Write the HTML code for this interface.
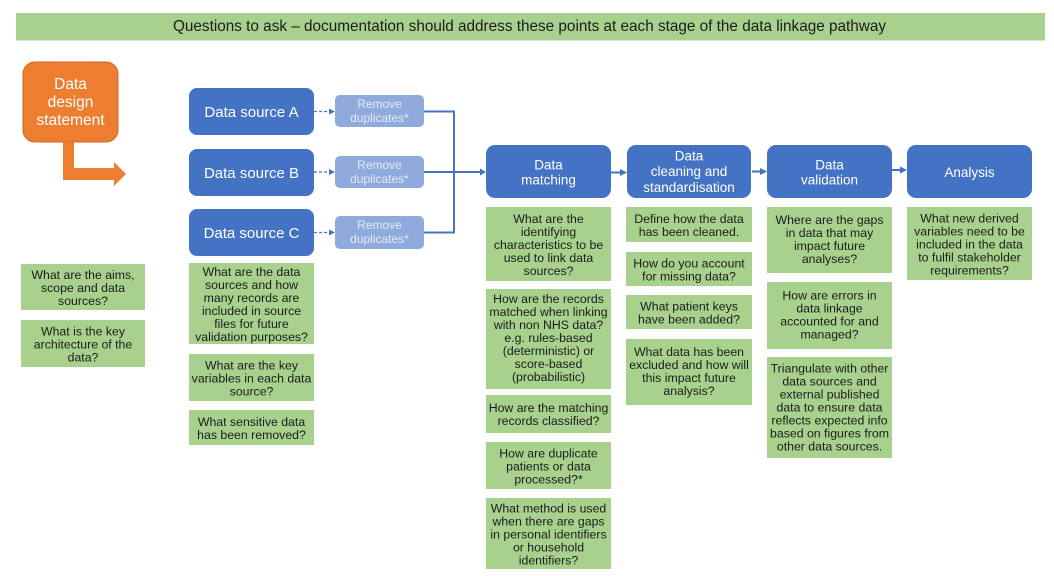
<!DOCTYPE html>
<html><head><meta charset="utf-8"><style>
html,body{margin:0;padding:0;background:#fff;}
svg{display:block;}
text{font-family:"Liberation Sans",Arial,sans-serif;}
.g{fill:#a9d18e;}
.gt{font-size:12.3px;fill:#1b1b1b;text-anchor:middle;}
.bt{font-size:15px;fill:#fff;text-anchor:middle;}
.st{font-size:13.5px;fill:#fff;text-anchor:middle;}
.rt{font-size:12px;fill:#e4eaf6;text-anchor:middle;}
</style></head><body>
<svg width="1054" height="576" viewBox="0 0 1054 576" xmlns="http://www.w3.org/2000/svg">
<rect width="1054" height="576" fill="#fff"/>
<!-- banner -->
<rect x="16" y="13" width="1029" height="27.5" fill="#a9d18e"/>
<text x="173" y="31" font-size="16" fill="#1b1b1b" textLength="713" lengthAdjust="spacingAndGlyphs">Questions to ask – documentation should address these points at each stage of the data linkage pathway</text>

<!-- orange -->
<rect x="23" y="62" width="95" height="80" rx="12" fill="#ed7d31" stroke="#d0661f" stroke-width="1"/>
<text x="70.5" y="89" font-size="15.5" fill="#fff" text-anchor="middle">Data</text>
<text x="70.5" y="107" font-size="15.5" fill="#fff" text-anchor="middle">design</text>
<text x="70.5" y="125" font-size="15.5" fill="#fff" text-anchor="middle">statement</text>
<polygon points="63,142 74,142 74,168 114,168 114,162 126,174 114,186 114,180 63,180" fill="#ed7d31"/>

<!-- data sources -->
<rect x="189" y="88" width="125" height="47" rx="8" fill="#4472c4"/>
<text class="bt" x="251.5" y="117">Data source A</text>
<rect x="189" y="149" width="125" height="47" rx="8" fill="#4472c4"/>
<text class="bt" x="251.5" y="178">Data source B</text>
<rect x="189" y="209" width="125" height="47" rx="8" fill="#4472c4"/>
<text class="bt" x="251.5" y="238">Data source C</text>

<!-- dashed arrows -->
<g stroke="#4472c4" stroke-width="1.3" stroke-dasharray="3,2">
<line x1="314" y1="111.5" x2="330" y2="111.5"/>
<line x1="314" y1="172" x2="330" y2="172"/>
<line x1="314" y1="232.5" x2="330" y2="232.5"/>
</g>
<g fill="#4472c4">
<polygon points="329,108.5 335,111.5 329,114.5"/>
<polygon points="329,169 335,172 329,175"/>
<polygon points="329,229.5 335,232.5 329,235.5"/>
</g>

<!-- remove duplicates -->
<rect x="335" y="95" width="89" height="32" rx="5" fill="#8faadc"/>
<text class="rt" x="379.5" y="108">Remove</text>
<text class="rt" x="379.5" y="122">duplicates*</text>
<rect x="335" y="156" width="89" height="32" rx="5" fill="#8faadc"/>
<text class="rt" x="379.5" y="169">Remove</text>
<text class="rt" x="379.5" y="183">duplicates*</text>
<rect x="335" y="216" width="89" height="33" rx="5" fill="#8faadc"/>
<text class="rt" x="379.5" y="229">Remove</text>
<text class="rt" x="379.5" y="243">duplicates*</text>

<!-- connectors -->
<polyline points="424,111.5 454,111.5 454,232.5 424,232.5" fill="none" stroke="#4472c4" stroke-width="2"/>
<line x1="424" y1="172" x2="481" y2="172" stroke="#4472c4" stroke-width="2"/>
<polygon points="480,168.5 486,172 480,175.5" fill="#4472c4"/>

<line x1="611" y1="172.5" x2="622" y2="172.5" stroke="#4472c4" stroke-width="2"/>
<polygon points="620,169 627,172.5 620,176" fill="#4472c4"/>
<line x1="752" y1="171.5" x2="762" y2="171.5" stroke="#4472c4" stroke-width="2"/>
<polygon points="760,168 767,171.5 760,175" fill="#4472c4"/>
<line x1="892" y1="170" x2="902" y2="170" stroke="#4472c4" stroke-width="2"/>
<polygon points="900,166.5 907,170 900,173.5" fill="#4472c4"/>

<!-- stage boxes -->
<rect x="486" y="145" width="125" height="53" rx="9" fill="#4472c4"/>
<text class="st" x="548.5" y="169.5">Data</text>
<text class="st" x="548.5" y="184.5">matching</text>
<rect x="627" y="145" width="124" height="53" rx="9" fill="#4472c4"/>
<text class="st" x="689" y="160.5">Data</text>
<text class="st" x="689" y="176">cleaning and</text>
<text class="st" x="689" y="192">standardisation</text>
<rect x="767" y="145" width="125" height="53" rx="9" fill="#4472c4"/>
<text class="st" x="829.5" y="169.5">Data</text>
<text class="st" x="829.5" y="184.5">validation</text>
<rect x="907" y="145" width="125" height="53" rx="9" fill="#4472c4"/>
<text class="st" x="969.5" y="177">Analysis</text>

<!-- left greens -->
<rect class="g" x="21" y="264" width="124" height="46"/>
<text class="gt" x="83" y="279">What are the aims,</text>
<text class="gt" x="83" y="292">scope and data</text>
<text class="gt" x="83" y="305">sources?</text>
<rect class="g" x="21" y="320" width="124" height="47"/>
<text class="gt" x="83" y="335.5">What is the key</text>
<text class="gt" x="83" y="348.5">architecture of the</text>
<text class="gt" x="83" y="361.5">data?</text>

<!-- source greens -->
<rect class="g" x="189" y="263" width="125" height="81"/>
<text class="gt" x="251.5" y="276">What are the data</text>
<text class="gt" x="251.5" y="289">sources and how</text>
<text class="gt" x="251.5" y="302">many records are</text>
<text class="gt" x="251.5" y="315">included in source</text>
<text class="gt" x="251.5" y="328">files for future</text>
<text class="gt" x="251.5" y="341">validation purposes?</text>
<rect class="g" x="189" y="354" width="125" height="47"/>
<text class="gt" x="251.5" y="369.5">What are the key</text>
<text class="gt" x="251.5" y="382.5">variables in each data</text>
<text class="gt" x="251.5" y="395.5">source?</text>
<rect class="g" x="189" y="410" width="125" height="35"/>
<text class="gt" x="251.5" y="426">What sensitive data</text>
<text class="gt" x="251.5" y="439">has been removed?</text>

<!-- matching greens -->
<rect class="g" x="486" y="207" width="125" height="74"/>
<text class="gt" x="548.5" y="223">What are the</text>
<text class="gt" x="548.5" y="236">identifying</text>
<text class="gt" x="548.5" y="249">characteristics to be</text>
<text class="gt" x="548.5" y="262">used to link data</text>
<text class="gt" x="548.5" y="275">sources?</text>
<rect class="g" x="486" y="289" width="125" height="100"/>
<text class="gt" x="548.5" y="303">How are the records</text>
<text class="gt" x="548.5" y="316">matched when linking</text>
<text class="gt" x="548.5" y="329">with non NHS data?</text>
<text class="gt" x="548.5" y="342">e.g. rules-based</text>
<text class="gt" x="548.5" y="355">(deterministic) or</text>
<text class="gt" x="548.5" y="368">score-based</text>
<text class="gt" x="548.5" y="381">(probabilistic)</text>
<rect class="g" x="486" y="395" width="125" height="38"/>
<text class="gt" x="548.5" y="412">How are the matching</text>
<text class="gt" x="548.5" y="425">records classified?</text>
<rect class="g" x="486" y="442" width="125" height="47"/>
<text class="gt" x="548.5" y="457.5">How are duplicate</text>
<text class="gt" x="548.5" y="470.5">patients or data</text>
<text class="gt" x="548.5" y="483.5">processed?*</text>
<rect class="g" x="486" y="498" width="125" height="71"/>
<text class="gt" x="548.5" y="512.5">What method is used</text>
<text class="gt" x="548.5" y="525.5">when there are gaps</text>
<text class="gt" x="548.5" y="538.5">in personal identifiers</text>
<text class="gt" x="548.5" y="551.5">or household</text>
<text class="gt" x="548.5" y="564.5">identifiers?</text>

<!-- cleaning greens -->
<rect class="g" x="626" y="207" width="126" height="35"/>
<text class="gt" x="689" y="223">Define how the data</text>
<text class="gt" x="689" y="236">has been cleaned.</text>
<rect class="g" x="626" y="252" width="126" height="34"/>
<text class="gt" x="689" y="267.5">How do you account</text>
<text class="gt" x="689" y="280.5">for missing data?</text>
<rect class="g" x="626" y="295" width="126" height="34"/>
<text class="gt" x="689" y="310.5">What patient keys</text>
<text class="gt" x="689" y="323.5">have been added?</text>
<rect class="g" x="626" y="339" width="126" height="66"/>
<text class="gt" x="689" y="356">What data has been</text>
<text class="gt" x="689" y="369">excluded and how will</text>
<text class="gt" x="689" y="382">this impact future</text>
<text class="gt" x="689" y="395">analysis?</text>

<!-- validation greens -->
<rect class="g" x="767" y="207" width="125" height="66"/>
<text class="gt" x="829.5" y="224">Where are the gaps</text>
<text class="gt" x="829.5" y="237">in data that may</text>
<text class="gt" x="829.5" y="250">impact future</text>
<text class="gt" x="829.5" y="263">analyses?</text>
<rect class="g" x="767" y="282" width="125" height="67"/>
<text class="gt" x="829.5" y="299.5">How are errors in</text>
<text class="gt" x="829.5" y="312.5">data linkage</text>
<text class="gt" x="829.5" y="325.5">accounted for and</text>
<text class="gt" x="829.5" y="338.5">managed?</text>
<rect class="g" x="767" y="357" width="125" height="101"/>
<text class="gt" x="829.5" y="372.5">Triangulate with other</text>
<text class="gt" x="829.5" y="385.5">data sources and</text>
<text class="gt" x="829.5" y="398.5">external published</text>
<text class="gt" x="829.5" y="411.5">data to ensure data</text>
<text class="gt" x="829.5" y="424.5">reflects expected info</text>
<text class="gt" x="829.5" y="437.5">based on figures from</text>
<text class="gt" x="829.5" y="450.5">other data sources.</text>

<!-- analysis green -->
<rect class="g" x="907" y="207" width="125" height="73"/>
<text class="gt" x="969.5" y="222.5">What new derived</text>
<text class="gt" x="969.5" y="235.5">variables need to be</text>
<text class="gt" x="969.5" y="248.5">included in the data</text>
<text class="gt" x="969.5" y="261.5">to fulfil stakeholder</text>
<text class="gt" x="969.5" y="274.5">requirements?</text>
</svg>
</body></html>
